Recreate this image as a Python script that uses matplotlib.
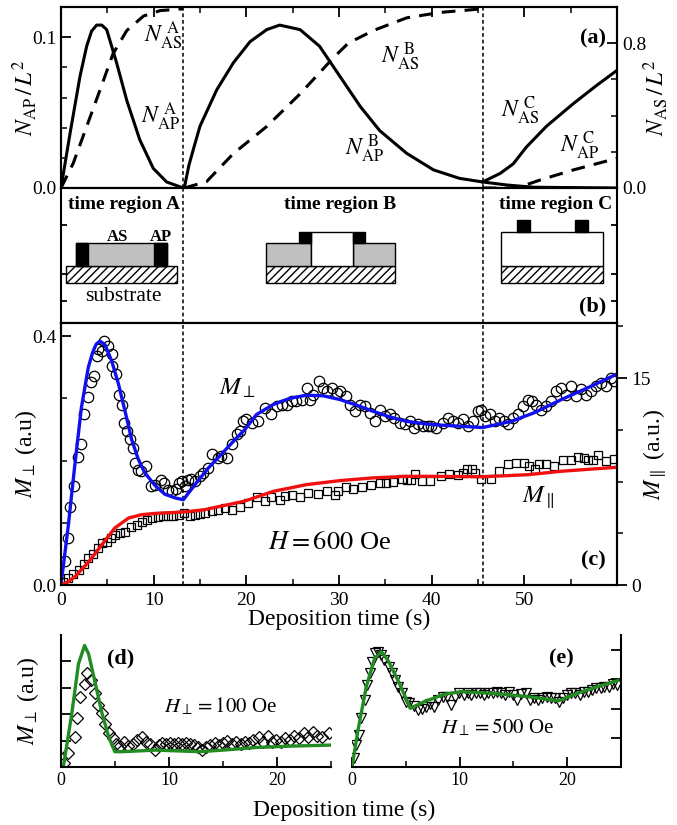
import matplotlib
matplotlib.use("Agg")
import matplotlib.pyplot as plt
from matplotlib.patches import Rectangle
from matplotlib.ticker import MultipleLocator, FixedLocator, FormatStrFormatter, NullFormatter

plt.rcParams.update({
    "font.family": "serif",
    "font.serif": ["Liberation Serif", "DejaVu Serif"],
    "mathtext.fontset": "stix",
    "axes.linewidth": 1.5,
    "xtick.direction": "in", "ytick.direction": "in",
    "xtick.major.size": 7, "ytick.major.size": 7,
    "xtick.minor.size": 4, "ytick.minor.size": 4,
    "xtick.major.width": 1.3, "ytick.major.width": 1.3,
    "xtick.minor.width": 1.1, "ytick.minor.width": 1.1,
})

# ---- panel (a): areal densities ------------------------------------------
AP_A_T = [0, 0.97, 2.05, 2.77, 3.3, 3.85, 4.4, 4.93, 6.0, 7.1, 8.5, 9.96, 11.4, 13.2]
AP_A_V = [0, 0.036, 0.074, 0.094, 0.104, 0.108, 0.108, 0.105, 0.083, 0.058, 0.032, 0.013, 0.004, 0.0]
AP_B_T = [13.3, 13.8, 14.3, 15.0, 16.8, 18.6, 20.4, 22.2, 23.6, 25.8, 27.9, 30.1, 32.3, 34.4,
          37.3, 40.2, 43.0, 45.5, 48.1, 51.0, 60]
AP_B_V = [0, 0.015, 0.026, 0.041, 0.065, 0.083, 0.097, 0.105, 0.108, 0.105, 0.094, 0.074, 0.054,
          0.038, 0.023, 0.012, 0.0064, 0.004, 0.002, 0.0005, 0]
AS_C_T = [45.5, 47.4, 48.8, 50.2, 52.4, 55.3, 57.8, 60]
AS_C_V = [0.004, 0.0097, 0.016, 0.027, 0.041, 0.056, 0.068, 0.078]
AP_C_T = [45.5, 49.2, 51.7, 55.3, 60]
AP_C_V = [0, 0.0, 0.0053, 0.012, 0.0197]
# right-axis (N_AS / L^2)
AS_A_T = [0, 1.33, 2.77, 4.2, 5.6, 7.1, 8.9, 10.7, 13.2]
AS_A_V = [0, 0.138, 0.34, 0.54, 0.74, 0.87, 0.95, 0.98, 0.99]
AS_B_T = [13.3, 15.7, 18.6, 22.2, 25.8, 29.4, 31.0, 33.7, 37.3, 40.9, 45.5]
AS_B_V = [0, 0.035, 0.19, 0.34, 0.52, 0.72, 0.8, 0.87, 0.94, 0.97, 0.99]

REGION_EDGES = [13.2, 45.5]

# ---- panel (c): H = 600 Oe ------------------------------------------------
CIRC_T = [0.43, 0.72, 0.97, 1.44, 1.8, 2.16, 2.5, 2.87, 3.24, 3.6, 3.85, 4.03, 4.39, 4.67, 5.1,
          5.47, 5.53, 5.93, 6.3, 6.55, 6.83, 7.08, 7.44, 7.73, 7.98, 8.27, 8.63, 9.14, 9.7, 10.1,
          10.79, 11.14, 11.58, 12.0, 12.37, 12.73, 13.09, 13.38, 13.67, 14.0, 14.45, 14.99, 15.35,
          15.9, 16.26, 16.97, 17.3, 17.87, 18.4, 18.95, 19.3, 19.67,
          20.0, 20.6, 21.3, 22.0, 22.7, 23.3, 23.8, 24.35, 24.9, 25.4, 25.97, 26.5, 26.86, 27.2,
          27.87, 28.3, 28.66, 29.2, 29.74, 30.1, 30.74, 31.17, 31.7, 32.25, 32.8, 33.3, 33.87,
          34.4, 34.95, 35.5, 35.9, 36.57, 37.1, 37.65, 38.08, 38.55, 39.1, 39.6,
          39.95, 40.5, 41.2, 41.75, 42.3, 42.8, 43.4, 43.9, 44.45, 45.0, 45.34, 45.8, 46.25, 46.8,
          47.3, 47.8, 48.2, 48.76, 49.3, 49.84, 50.4, 50.8, 51.3, 51.8, 52.35, 52.9, 53.43, 53.97,
          54.5, 55.05, 55.6, 56.1, 56.7, 57.2, 57.75, 58.3, 58.8, 59.36, 59.7]
CIRC_V = [0.038, 0.076, 0.126, 0.159, 0.205, 0.227, 0.274, 0.302, 0.326, 0.336, 0.368, 0.379,
          0.376, 0.392, 0.384, 0.371, 0.352, 0.339, 0.306, 0.29, 0.261, 0.247, 0.234, 0.22, 0.196,
          0.184, 0.183, 0.191, 0.159, 0.161, 0.169, 0.164, 0.153, 0.151, 0.155, 0.164, 0.167,
          0.159, 0.169, 0.171, 0.167, 0.175, 0.18, 0.188, 0.21, 0.204, 0.207, 0.204, 0.226, 0.242,
          0.247, 0.263,
          0.266, 0.261, 0.263, 0.285, 0.274, 0.288, 0.29, 0.29, 0.295, 0.296, 0.298, 0.317, 0.298,
          0.306, 0.327, 0.317, 0.312, 0.317, 0.309, 0.312, 0.304, 0.29, 0.28, 0.29, 0.288, 0.277,
          0.263, 0.282, 0.272, 0.274, 0.269, 0.261, 0.258, 0.263, 0.253, 0.258, 0.255, 0.255,
          0.255, 0.253, 0.261, 0.269, 0.263, 0.261, 0.266, 0.255, 0.263, 0.28, 0.282, 0.271,
          0.274, 0.263, 0.269, 0.263, 0.258, 0.269, 0.274, 0.288, 0.298, 0.296, 0.29, 0.282,
          0.288, 0.296, 0.312, 0.317, 0.306, 0.32, 0.304, 0.315, 0.306, 0.312, 0.32, 0.325, 0.32,
          0.333, 0.328]
BLUE_T = [0, 0.8, 1.5, 2.2, 2.95, 3.4, 3.8, 4.2, 4.75, 5.47, 6.2, 6.9, 7.62, 8.34, 9.06, 10.14,
          11.2, 12.3, 13.2, 14.45, 15.9, 17.3, 18.8, 19.85, 21.1, 22.9, 24.7, 26.5, 28.3, 30.1,
          31.9, 33.7, 35.5, 37.3, 39.8, 43.2, 45.5, 48.6, 51.1, 54.0, 56.85, 60]
BLUE_V = [0.0, 0.097, 0.194, 0.285, 0.35, 0.373, 0.387, 0.392, 0.386, 0.36, 0.323, 0.28, 0.234,
          0.202, 0.18, 0.16, 0.146, 0.14, 0.137, 0.161, 0.188, 0.21, 0.234, 0.25, 0.274, 0.29,
          0.3, 0.305, 0.304, 0.298, 0.289, 0.279, 0.27, 0.263, 0.258, 0.255, 0.253, 0.263, 0.277,
          0.298, 0.317, 0.339]
SQ_T = [0.25, 0.79, 1.33, 1.94, 2.52, 2.95, 3.49, 3.96, 4.39, 4.93, 5.4, 5.83, 6.36, 6.9, 7.55,
        8.16, 8.7, 9.24, 9.85, 10.5, 11.0, 11.58, 12.1, 12.73, 13.3, 13.9, 14.45, 15.0, 15.5,
        16.26, 16.97, 17.7, 18.4, 19.3,
        20.2, 21.1, 22.0, 22.7, 23.6, 24.2, 24.9, 25.8, 26.7, 27.75, 28.7, 29.6, 29.9, 30.75,
        31.5, 32.5, 33.5, 34.4, 35.1, 35.85, 36.75, 37.3, 37.8, 38.2, 39.0, 39.8,
        41.0, 41.9, 42.8, 43.4, 43.8, 44.3, 44.7, 45.3, 46.35, 47.3, 48.2, 49.1, 50.0, 50.55,
        51.1, 51.6, 52.35, 53.25, 54.2, 55.05, 55.8, 56.4, 56.85, 57.4, 58.0, 58.8, 59.7]
SQ_V = [0.24, 0.49, 0.78, 1.09, 1.5, 1.94, 2.23, 2.67, 3.03, 3.15, 3.44, 3.64, 3.76, 3.84, 4.17,
        4.37, 4.56, 4.73, 4.85, 4.9, 4.97, 4.97, 4.97, 5.05, 5.22, 4.97, 5.1, 5.15, 5.22, 5.34,
        5.46, 5.58, 5.46, 5.63,
        5.95, 6.36, 6.12, 6.36, 6.19, 6.43, 6.55, 6.36, 6.68, 6.6, 6.79, 6.55, 6.84, 7.08, 6.99,
        7.08, 7.23, 7.37, 7.4, 7.47, 7.72, 7.64, 7.64, 8.06, 7.57, 7.52,
        7.88, 8.06, 8.01, 8.13, 8.44, 8.44, 8.13, 7.72, 7.72, 8.25, 8.79, 8.86, 8.86, 8.61, 8.44,
        8.74, 8.79, 8.61, 9.1, 9.1, 9.27, 9.22, 9.03, 9.1, 9.41, 8.98, 9.17]
RED_T = [0, 0.8, 1.5, 2.95, 4.4, 5.8, 7.3, 8.7, 10.1, 13.2, 15.5, 18.0, 19.9, 22.9, 26.5, 30.1,
         33.7, 37.3, 39.8, 45.5, 50.4, 54.0, 60]
RED_V = [0, 0.25, 0.6, 1.65, 2.91, 4.13, 4.86, 5.1, 5.19, 5.29, 5.46, 5.82, 6.1, 6.79, 7.28,
         7.57, 7.77, 7.88, 7.88, 7.85, 8.0, 8.25, 8.54]

# ---- panel (d): H_perp = 100 Oe -----------------------------------------
DIA_T = [0.31, 0.69, 1.25, 1.5, 1.78, 2.18, 2.43, 2.8, 3.18, 3.43, 3.8, 4.05, 4.42, 4.8, 5.1,
         5.48, 5.83, 6.23, 6.67, 7.07, 7.48, 7.85, 8.26, 8.66, 9.03, 9.35, 9.72, 10.1, 10.47,
         10.84, 11.2, 11.6, 11.96, 12.34, 12.7, 13.1, 13.46, 13.83, 14.24, 14.64, 15.0, 15.4,
         15.8, 16.2, 16.64, 17.04, 17.45, 17.82, 18.3, 18.7, 19.13, 19.53, 19.94, 20.37, 20.78,
         21.18, 21.62, 22.0, 22.5, 22.87, 23.36, 23.74, 24.2, 24.83]
DIA_V = [0.14, 0.54, 1.12, 1.87, 2.65, 3.16, 3.56, 3.28, 2.8, 2.34, 2.03, 1.62, 1.27, 1.08, 0.89,
         0.79, 0.96, 0.79, 0.89, 1.02, 1.12, 0.96, 0.89, 0.64, 0.83, 0.92, 0.89, 0.92, 0.89,
         0.92, 0.89, 0.92, 0.86, 0.83, 0.77, 0.64, 0.77, 0.83, 0.92, 0.83, 0.92, 1.0, 0.89, 0.96,
         0.89, 0.96, 0.92, 1.02, 1.14, 0.96, 1.17, 0.96, 1.02, 0.96, 1.08, 1.02, 1.17, 1.08,
         1.27, 1.12, 1.33, 1.17, 1.14, 1.3]
GREEN_D_T = [0.22, 1.0, 1.62, 2.18, 2.55, 3.18, 3.8, 4.42, 4.98, 5.67, 8.8, 12.8, 15.0, 18.1,
             21.2, 25.0]
GREEN_D_V = [0.01, 2.03, 3.91, 4.6, 4.29, 3.16, 2.03, 1.14, 0.58, 0.58, 0.64, 0.58, 0.64, 0.74,
             0.79, 0.83]

# ---- panel (e): H_perp = 500 Oe -----------------------------------------
TRI_T = [0.19, 0.4, 0.62, 0.86, 1.17, 1.42, 1.64, 1.85, 2.16, 2.41, 2.72, 3.02, 3.4, 3.7, 4.0,
         4.32, 4.63, 5.03, 5.34, 5.74, 6.11, 6.48, 6.88, 7.28, 7.65, 8.0, 8.46, 8.83, 9.2, 9.57,
         9.97, 10.37, 10.74, 11.1, 11.5, 11.9, 12.3, 12.65, 13.06, 13.46, 13.83, 14.2, 14.6,
         15.0, 15.37, 15.74, 16.14, 16.54, 16.9, 17.28, 17.68, 18.1, 18.46, 18.83, 19.23, 19.63,
         20.0, 20.37, 20.77, 21.17, 21.54, 21.9, 22.3, 22.7, 23.1, 23.46, 23.86, 24.26, 24.63]
TRI_V = [0.3, 0.75, 1.1, 1.67, 2.29, 2.81, 3.21, 3.61, 3.89, 3.95, 3.84, 3.66, 3.44, 3.21, 2.98,
         2.75, 2.52, 2.24, 2.18, 2.09, 1.95, 1.97, 2.04, 2.16, 2.04, 2.29, 2.41, 2.41, 2.12, 2.41,
         2.52, 2.47, 2.52, 2.47, 2.55, 2.52, 2.47, 2.55, 2.52, 2.58, 2.55, 2.47, 2.58, 2.47,
         2.29, 2.5, 2.55, 2.29, 2.35, 2.29, 2.35, 2.41, 2.35, 2.35, 2.24, 2.35, 2.47, 2.52, 2.52,
         2.47, 2.58, 2.58, 2.64, 2.69, 2.69, 2.75, 2.73, 2.84, 2.81]
GREEN_E_T = [0, 0.56, 1.33, 2.1, 2.72, 3.33, 4.25, 5.43, 6.73, 8.58, 10.12, 13.2, 16.3, 19.23,
             20.9, 22.8, 24.7]
GREEN_E_V = [0, 1.27, 2.75, 3.72, 3.95, 3.66, 2.98, 2.01, 2.24, 2.49, 2.58, 2.52, 2.41, 2.27,
             2.52, 2.75, 2.96]

W, H = 677, 825
BLUE, RED, GREEN = "#1010f0", "#f01010", "#228b22"


def box(left, top, right, bottom):
    return [left / W, 1 - bottom / H, (right - left) / W, (bottom - top) / H]


fig = plt.figure(figsize=(W / 100, H / 100), dpi=100)
ax_a = fig.add_axes(box(61, 7, 617, 188))
ax_b = fig.add_axes(box(61, 188, 617, 323))
ax_c = fig.add_axes(box(61, 323, 617, 585))
ax_d = fig.add_axes(box(61, 635, 331, 767))
ax_e = fig.add_axes(box(352, 635, 621, 767))

dash = (0, (4.5, 3))
for ax in (ax_a, ax_b, ax_c):
    ax.set_xlim(0, 60)
    for x in REGION_EDGES:
        ax.axvline(x, color="k", lw=1.1, ls=(0, (2.5, 1.8)), zorder=1)

# ---------------- (a)
ax_a.plot(AP_A_T, AP_A_V, color="k", lw=2.2)
ax_a.plot(AP_B_T, AP_B_V, color="k", lw=2.2)
ax_a.plot(AS_C_T, AS_C_V, color="k", lw=2.2)
ax_a.plot(AP_C_T, AP_C_V, color="k", lw=2.2, ls=dash)
ax_a.set_ylim(0, 0.12)
ax_a.yaxis.set_major_locator(FixedLocator([0, 0.1]))
ax_a.yaxis.set_minor_locator(MultipleLocator(0.02))
ax_a.yaxis.set_major_formatter(FormatStrFormatter("%.1f"))
ax_a.xaxis.set_major_locator(MultipleLocator(10))
ax_a.xaxis.set_minor_locator(MultipleLocator(5))
ax_a.tick_params(axis="x", which="both", top=True, bottom=False, labelbottom=False)
ax_a.tick_params(axis="y", labelsize=14)
ax_a.set_ylabel(r"$N_{\rm AP}\,/\,L^2$", fontsize=17)
ax_a.yaxis.set_label_coords(-0.04, 0.5)

ax_a2 = ax_a.twinx()
ax_a2.plot(AS_A_T, AS_A_V, color="k", lw=2.2, ls=dash)
ax_a2.plot(AS_B_T, AS_B_V, color="k", lw=2.2, ls=dash)
ax_a2.set_ylim(0, 1.0)
ax_a2.yaxis.set_major_locator(FixedLocator([0, 0.8]))
ax_a2.yaxis.set_minor_locator(MultipleLocator(0.2))
ax_a2.yaxis.set_major_formatter(FormatStrFormatter("%.1f"))
ax_a2.tick_params(axis="y", labelsize=14)
ax_a2.set_ylabel(r"$N_{\rm AS}\,/\,L^2$", fontsize=17)
ax_a2.yaxis.set_label_coords(1.043, 0.5)

ann = dict(fontsize=17, ha="center", va="center")
ax_a.text(11.0, 0.101, r"$N_{\rm AS}^{\ \rm A}$", **ann)
ax_a.text(10.7, 0.047, r"$N_{\rm AP}^{\ \rm A}$", **ann)
ax_a.text(36.6, 0.087, r"$N_{\rm AS}^{\ \rm B}$", **ann)
ax_a.text(32.8, 0.026, r"$N_{\rm AP}^{\ \rm B}$", **ann)
ax_a.text(49.5, 0.051, r"$N_{\rm AS}^{\ \rm C}$", **ann)
ax_a.text(56.0, 0.028, r"$N_{\rm AP}^{\ \rm C}$", **ann)
ax_a.text(58.8, 0.099, "(a)", fontsize=16, fontweight="bold", ha="right", va="center")

# ---------------- (b) schematic (y in pixels below the top of the panel)
ax_b.set_ylim(134, 0)
ax_b.set_xticks([])
ax_b.yaxis.set_major_locator(FixedLocator([37, 85, 112]))
ax_b.tick_params(axis="y", left=True, right=True, labelleft=False, length=4)
GRAY = "#c0c0c0"


def rect(x0, x1, y0, y1, fc, hatch=None):
    ax_b.add_patch(Rectangle((x0, y0), x1 - x0, y1 - y0, facecolor=fc, edgecolor="k",
                             lw=1.0, hatch=hatch, zorder=3))


# region A
rect(0.59, 12.52, 77, 94, "white", "////")
rect(1.62, 11.44, 55, 77, GRAY)
rect(1.62, 2.91, 55, 77, "k")
rect(10.04, 11.44, 55, 77, "k")
# region B
rect(22.12, 36.04, 77, 94, "white", "////")
rect(22.12, 26.98, 55, 77, GRAY)
rect(31.51, 36.04, 55, 77, GRAY)
rect(26.98, 31.51, 44, 77, "white")
rect(25.68, 26.98, 44, 55, "k")
rect(31.51, 32.8, 44, 55, "k")
# region C
rect(47.48, 58.49, 77, 94, "white", "////")
rect(47.48, 58.49, 44, 77, "white")
rect(49.2, 50.6, 32, 44, "k")
rect(55.5, 56.9, 32, 44, "k")

lab = dict(fontsize=14, fontweight="bold", ha="center", va="center")
ax_b.text(6.76, 16, "time region A", **lab)
ax_b.text(30.1, 16, "time region B", **lab)
ax_b.text(53.4, 16, "time region C", **lab)
ax_b.text(6.1, 49, "AS", fontsize=12, fontweight="bold", ha="center", va="center")
ax_b.text(10.8, 49, "AP", fontsize=12, fontweight="bold", ha="center", va="center")
ax_b.text(6.7, 108, "substrate", fontsize=15.5, ha="center", va="center")
ax_b.text(58.8, 118, "(b)", fontsize=16, fontweight="bold", ha="right", va="center")

# ---------------- (c)
ax_c.plot(CIRC_T, CIRC_V, ls="none", marker="o", ms=7.5, mfc="none", mec="k", mew=0.9)
ax_c.plot(BLUE_T, BLUE_V, color=BLUE, lw=2.4)
ax_c.set_ylim(0, 0.421)
ax_c.yaxis.set_major_locator(FixedLocator([0, 0.4]))
ax_c.yaxis.set_minor_locator(FixedLocator([0.1, 0.2, 0.3]))
ax_c.yaxis.set_major_formatter(FormatStrFormatter("%.1f"))
ax_c.xaxis.set_major_locator(FixedLocator([0, 10, 20, 30, 40, 50]))
ax_c.xaxis.set_minor_locator(MultipleLocator(5))
ax_c.tick_params(labelsize=14)
ax_c.tick_params(axis="x", pad=5)
ax_c.set_ylabel(r"$M_\perp$ (a.u)", fontsize=17)
ax_c.yaxis.set_label_coords(-0.04, 0.5)

ax_c2 = ax_c.twinx()
ax_c2.plot(SQ_T, SQ_V, ls="none", marker="s", ms=5.5, mfc="none", mec="k", mew=0.9)
ax_c2.plot(RED_T, RED_V, color=RED, lw=2.4)
ax_c2.set_ylim(0, 19)
ax_c2.yaxis.set_major_locator(FixedLocator([0, 15]))
ax_c2.yaxis.set_minor_locator(FixedLocator([3.75, 7.5, 11.25, 18.75]))
ax_c2.tick_params(axis="y", which="both", direction="out", labelsize=14)
ax_c2.set_ylabel(r"$M_\parallel$ (a.u.)", fontsize=17)
ax_c2.yaxis.set_label_coords(1.043, 0.5)

ax_c.text(19.1, 0.316, r"$M_\perp$", fontsize=18, ha="center", va="center")
ax_c.text(51.5, 0.142, r"$M_\parallel$", fontsize=18, ha="center", va="center")
ax_c.text(29.0, 0.068, r"$H = 600$ Oe", fontsize=19, ha="center", va="center")
ax_c.text(58.8, 0.04, "(c)", fontsize=16, fontweight="bold", ha="right", va="center")
fig.text(0.5007, 1 - 619 / H, "Deposition time (s)", fontsize=17, ha="center", va="center")

# ---------------- (d)
ax_d.plot(DIA_T, DIA_V, ls="none", marker="D", ms=6, mfc="none", mec="k", mew=0.9)
ax_d.plot(GREEN_D_T, GREEN_D_V, color=GREEN, lw=2.4)
ax_d.set_xlim(0, 25)
ax_d.set_ylim(0, 5)
ax_d.spines["top"].set_visible(False)
ax_d.spines["right"].set_visible(False)
ax_d.yaxis.set_major_locator(FixedLocator([1, 2, 3, 4]))
ax_d.yaxis.set_major_formatter(NullFormatter())
ax_d.xaxis.set_major_locator(FixedLocator([0, 10, 20]))
ax_d.xaxis.set_minor_locator(FixedLocator([5, 15, 25]))
ax_d.tick_params(labelsize=13)
ax_d.set_ylabel(r"$M_\perp$ (a.u)", fontsize=17)
ax_d.yaxis.set_label_coords(-0.075, 0.5)
ax_d.text(5.5, 4.1, "(d)", fontsize=16, fontweight="bold", ha="center", va="center")
ax_d.text(14.8, 2.3, r"$H_\perp = 100$ Oe", fontsize=15, ha="center", va="center")

# ---------------- (e)
ax_e.plot(TRI_T, TRI_V, ls="none", marker="v", ms=6.5, mfc="none", mec="k", mew=0.9)
ax_e.plot(GREEN_E_T, GREEN_E_V, color=GREEN, lw=2.4)
ax_e.set_xlim(0, 25)
ax_e.set_ylim(0, 4.52)
ax_e.spines["top"].set_visible(False)
ax_e.spines["left"].set_visible(False)
ax_e.yaxis.set_major_locator(FixedLocator([1, 2, 3, 4]))
ax_e.yaxis.set_major_formatter(NullFormatter())
ax_e.tick_params(axis="y", left=False, right=True)
ax_e.xaxis.set_major_locator(FixedLocator([0, 10, 20]))
ax_e.xaxis.set_minor_locator(FixedLocator([5, 15, 25]))
ax_e.tick_params(labelsize=13)
ax_e.text(19.5, 3.73, "(e)", fontsize=16, fontweight="bold", ha="center", va="center")
ax_e.text(13.5, 1.34, r"$H_\perp = 500$ Oe", fontsize=15, ha="center", va="center")

fig.text(344 / W, 1 - 810 / H, "Deposition time (s)", fontsize=17, ha="center", va="center")

fig.savefig("out.png", dpi=100)
